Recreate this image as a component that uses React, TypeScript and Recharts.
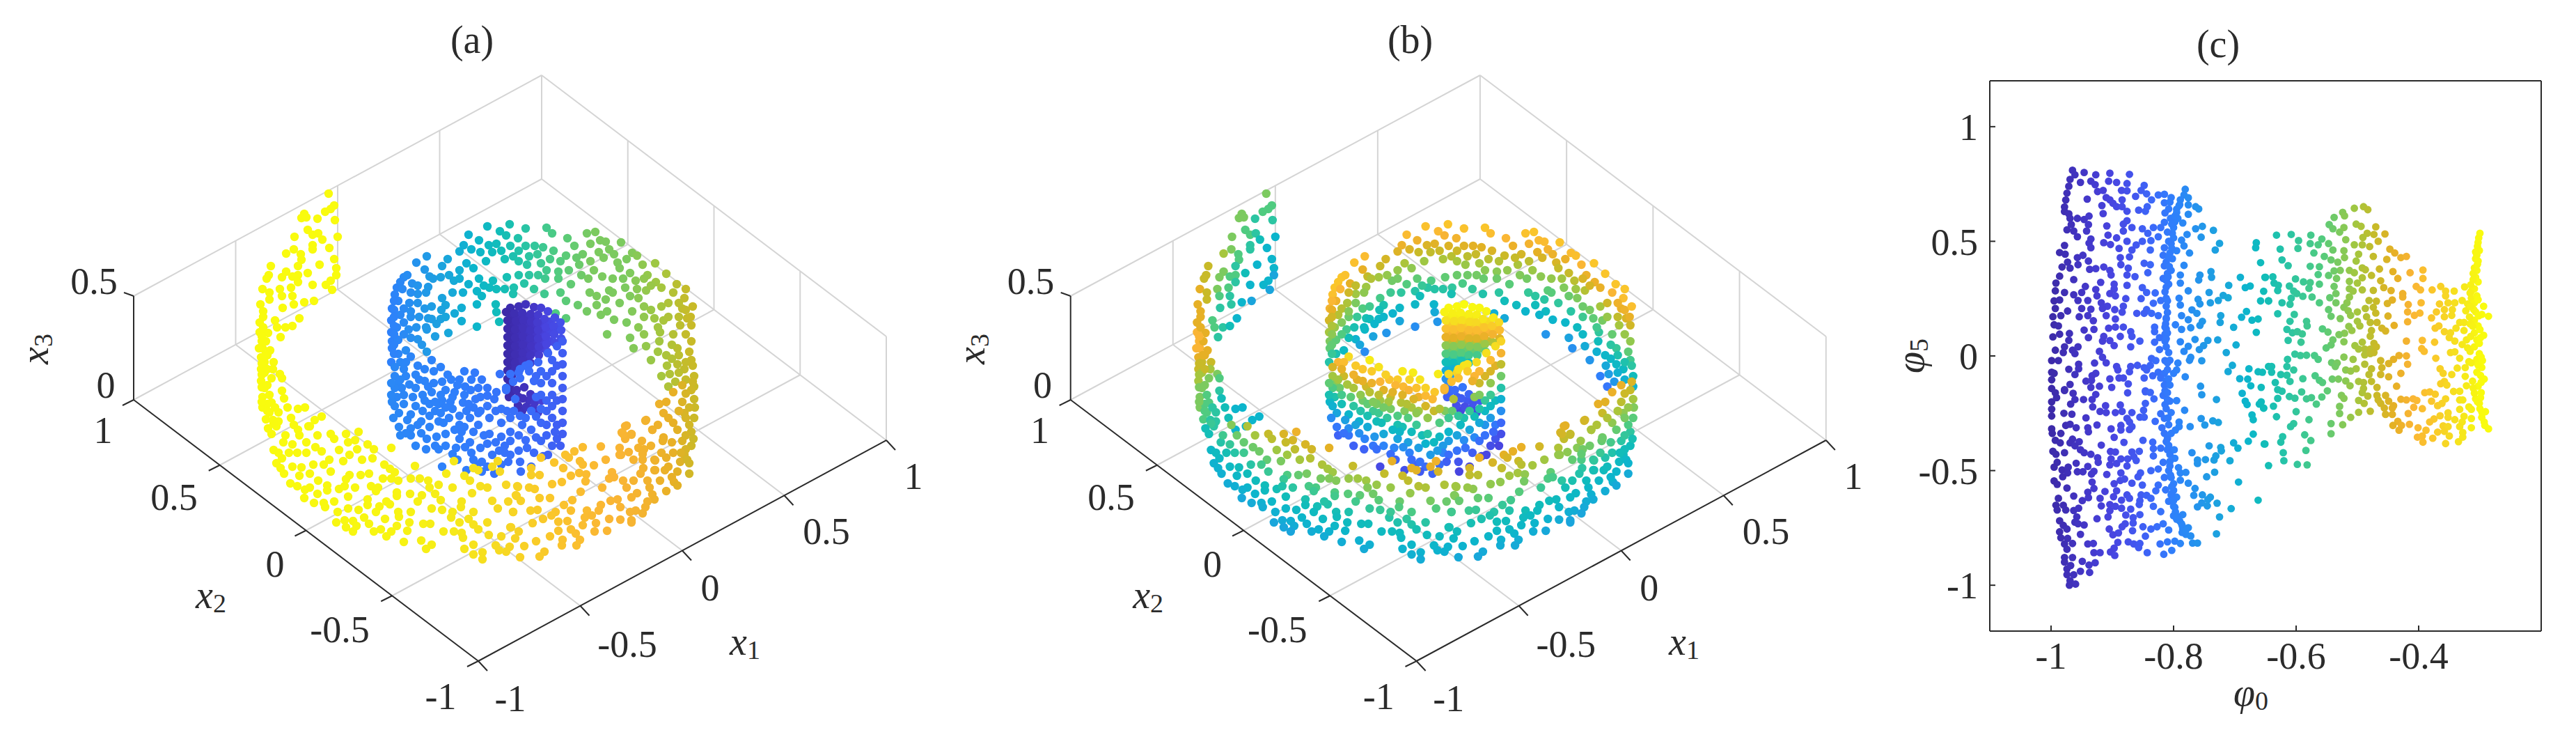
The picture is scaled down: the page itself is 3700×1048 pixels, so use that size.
import React from "react";
import { ScatterChart, Scatter, XAxis, YAxis, ReferenceLine } from "recharts";

const FONT = "'Liberation Serif', serif";
const INK = "#2b2b2b";
const GRID = "#d4d4d4";

// colour scale of the figure
const PALETTE = ["#3c2aa8","#4335c4","#4845e0","#4258f0","#3a6cfa","#2f80fb","#2494ec","#1aa5dc","#0cb5cc","#12bdb8","#2cc5a2","#50cb80","#7cca5f","#a6c63e","#c8ba28","#e6b025","#fab535","#fac52b","#f6da22","#f6ec18","#f9fb0e"];

// ---- panels (a), (b): projected positions of the points
const ringPts = [[700,325],[732,322],[755,328],[785,327],[793,335],[673,337],[718,332],[727,338],[744,342],[688,345],[660,361],[677,358],[702,352],[713,350],[733,353],[755,353],[768,353],[815,342],[843,335],[855,333],[870,347],[892,348],[613,368],[598,377],[643,372],[670,378],[698,375],[737,368],[772,365],[795,360],[813,367],[837,365],[860,362],[908,363],[915,367],[610,387],[635,382],[660,388],[617,397],[633,398],[757,380],[777,378],[802,390],[817,388],[832,380],[848,375],[867,370],[887,377],[923,380],[941,378],[580,398],[652,403],[688,400],[708,403],[728,398],[785,388],[853,388],[865,397],[905,392],[890,385],[957,393],[592,407],[570,413],[615,412],[673,408],[713,415],[738,413],[753,407],[767,415],[783,400],[802,400],[820,408],[913,403],[942,405],[972,408],[567,423],[600,422],[635,428],[685,418],[703,413],[692,425],[737,422],[782,422],[805,420],[847,420],[875,417],[898,413],[928,417],[950,413],[967,420],[563,443],[610,443],[640,438],[663,442],[685,437],[712,437],[813,432],[857,425],[890,435],[917,428],[983,428],[562,460],[580,443],[653,450],[713,448],[830,438],[843,447],[857,438],[872,447],[908,447],[980,443],[615,457],[633,458],[663,461],[717,462],[798,450],[813,457],[863,452],[882,459],[900,463],[940,457],[953,460],[987,457],[562,477],[580,463],[613,473],[685,469],[644,478],[625,483],[872,480],[917,470],[948,477],[977,467],[993,467],[563,500],[587,473],[600,487],[613,505],[910,500],[928,497],[947,490],[973,500],[967,480],[993,490],[562,520],[583,503],[935,517],[957,510],[993,517],[973,523],[563,490],[572,432],[575,452],[570,470],[572,488],[590,455],[572,508],[962,537],[983,530],[997,540],[990,505],[965,495],[985,480],[958,525],[945,505],[925,480],[905,485]];
const ringMore = [[585,395],[575,405],[566,432],[566,445],[566,455],[566,468],[566,480],[566,495],[566,508],[578,415],[590,420],[600,410],[612,420],[588,435],[600,435],[590,447],[602,455],[620,440],[612,470],[620,458],[634,445],[627,465],[640,455],[598,470],[590,485],[606,495],[580,480],[666,352],[690,362],[707,362],[720,360],[725,372],[745,360],[745,375],[760,368],[780,355],[790,372],[805,375],[825,353],[828,370],[848,350],[862,345],[875,358],[882,365],[900,372],[930,395],[925,400],[935,410],[915,415],[905,425],[895,400],[880,400],[835,395],[845,400],[773,395],[760,395],[745,395],[725,415],[695,410],[680,385],[660,400],[665,420],[650,420],[645,395],[622,400],[870,430],[880,420],[925,440],[935,445],[950,440],[960,435],[975,435],[985,445],[960,455],[945,470],[925,455],[975,455],[995,440],[985,415],[992,455],[975,510],[985,520],[965,515],[995,525],[975,535],[985,545],[997,555],[970,548],[960,555],[950,540]];

const cylinderPts = [[733,442],[745,440],[755,437],[767,441],[777,442],[787,447],[797,456],[805,463],[727,448],[739,450],[750,449],[762,451],[773,452],[729,460],[741,461],[752,460],[763,462],[782,458],[772,463],[729,472],[740,473],[751,471],[762,474],[773,474],[784,470],[795,468],[806,474],[729,484],[740,485],[751,483],[762,486],[773,486],[784,483],[796,480],[806,486],[729,496],[740,497],[751,495],[763,497],[774,498],[785,494],[797,492],[729,508],[740,509],[751,507],[762,510],[774,510],[786,505],[729,520],[740,521],[751,518],[762,521],[729,532],[740,530],[729,544],[729,560],[731,570],[742,560],[753,556],[762,566],[751,572],[756,584],[744,582],[768,578],[778,575],[773,592]];
const cylinderMore = [[735,455],[746,455],[757,455],[768,458],[735,467],[746,467],[757,467],[768,468],[779,466],[790,462],[800,472],[735,479],[746,478],[757,480],[768,480],[779,478],[790,477],[735,491],[746,490],[757,491],[768,492],[779,491],[790,490],[735,503],[746,502],[757,503],[768,504],[780,500],[735,515],[746,514],[757,514],[735,527],[746,525],[735,540],[733,552],[745,570],[735,562],[760,575],[766,586],[750,590]];

const innerFrontPts = [[620,517],[633,527],[623,533],[643,538],[667,533],[682,535],[692,545],[567,527],[597,538],[583,520],[583,540],[567,540],[580,530],[597,557],[610,547],[623,550],[640,560],[657,553],[677,545],[687,557],[700,557],[713,563],[727,560],[718,537],[733,537],[747,530],[760,523],[773,520],[787,507],[800,497],[808,490],[808,507],[808,523],[808,540],[808,557],[808,573],[808,590],[808,607],[808,623],[805,640],[793,517],[793,533],[793,550],[793,567],[793,583],[793,600],[797,620],[793,640],[787,653],[777,533],[777,550],[777,567],[777,587],[767,547],[760,533],[747,543],[737,548],[740,573],[727,557],[747,597],[763,590],[777,607],[750,610],[733,600],[763,617],[733,620],[777,633],[757,643],[733,633],[745,647],[733,653],[767,650],[747,663],[748,677],[763,670],[730,663],[720,587],[710,573],[700,583],[720,607],[703,600],[687,593],[687,610],[703,623],[680,620],[720,627],[700,637],[717,647],[690,643],[707,653],[720,667],[692,663],[680,660],[710,680],[692,677],[670,675],[657,660],[668,642],[655,643],[650,652],[635,670],[667,613],[660,597],[650,587],[673,580],[683,573],[667,567],[653,563],[647,577],[633,567],[630,580],[620,563],[617,580],[607,567],[577,557],[567,557],[563,577],[580,567],[597,583],[573,593],[617,597],[633,593],[637,607],[617,613],[573,613],[583,622],[600,610],[627,627],[640,623],[613,630],[597,640],[612,645],[630,645],[567,583],[562,567],[562,550],[575,545],[653,617],[663,620],[593,570],[607,590],[585,603],[565,600],[640,585],[660,630],[675,600],[625,577]];
const innerMore = [[575,520],[590,512],[600,525],[610,530],[572,550],[588,552],[602,545],[615,555],[635,548],[648,545],[660,545],[668,555],[676,560],[690,570],[700,568],[712,590],[728,590],[738,590],[755,600],[770,598],[785,610],[785,625],[770,628],[755,632],[745,625],[725,640],[712,635],[695,625],[675,635],[660,610],[645,600],[630,605],[625,590],[605,605],[590,595],[580,580],[570,570],[575,625],[590,625],[605,622],[625,640],[640,640],[677,650],[685,668],[700,670],[725,650],[780,655],[800,630],[785,590],[770,570],[785,575],[800,575],[785,540],[800,525],[770,540],[755,525],[745,535],[800,610],[690,590],[670,590],[650,570],[635,575],[665,578],[680,585],[610,575],[590,615]];

const tailPts = [[472,278,12],[480,295,11],[475,300,11],[467,304,11],[437,307,12],[433,313,12],[440,312,12],[456,314,10],[481,316,10],[442,330,11],[449,337,11],[457,335,10],[463,344,9],[423,340,12],[485,340,8],[449,352,10],[449,358,10],[473,356,8],[411,364,13],[422,358,12],[432,365,11],[433,373,11],[428,382,10],[480,372,8],[459,380,8],[389,382,14],[483,385,8],[483,395,7],[386,395,14],[383,400,14],[411,390,12],[405,398,12],[420,397,11],[428,395,11],[442,392,9],[428,405,10],[449,409,8],[475,403,8],[468,409,8],[477,416,7],[377,415,15],[387,420,14],[402,415,12],[405,425,11],[418,413,11],[420,425,10],[422,437,10],[374,437,15],[387,430,14],[378,447,15],[378,455,15],[406,442,10],[437,434,8],[451,432,7],[430,457,8],[395,460,11],[398,470,11],[410,470,10],[420,468,9],[403,484,10],[373,463,15],[373,477,16],[376,490,16],[377,500,16],[388,503,15],[375,513,15],[393,520,14],[380,520,14],[375,530,14],[402,537,12],[405,543,11],[390,543,12],[375,547,13],[380,557,12],[405,561,10],[408,572,9],[377,570,12],[387,567,11],[390,578,11],[377,585,12],[413,585,9],[428,587,8],[438,585,8],[387,592,11],[400,592,10],[382,602,11],[418,600,9],[392,603,10],[462,598,8],[452,603,8],[443,612,8],[428,617,8],[397,612,10],[384,510,15],[372,500,16],[382,490,15],[385,478,15],[380,535,13],[392,530,13],[384,580,11],[378,470,15],[376,483,16],[381,510,15],[376,522,14],[384,530,14],[376,538,13],[376,556,12],[384,553,12],[376,577,12],[384,590,11],[395,585,10],[400,605,10]];

const outerPts = [[393,608],[422,610],[445,612],[390,623],[456,625],[475,623],[497,623],[515,620],[510,632],[407,635],[420,638],[440,635],[453,642],[393,646],[427,650],[462,648],[487,646],[513,645],[528,638],[537,645],[562,643],[502,653],[493,662],[405,658],[397,665],[403,672],[473,660],[465,667],[535,658],[450,667],[433,671],[475,677],[552,667],[596,669],[560,673],[567,678],[502,682],[518,682],[430,683],[550,687],[562,687],[572,690],[590,687],[603,687],[615,690],[417,694],[457,690],[497,688],[427,698],[470,697],[445,700],[533,698],[543,700],[630,696],[617,700],[438,703],[487,702],[495,698],[470,704],[540,705],[570,707],[589,709],[606,711],[625,709],[456,709],[437,715],[500,713],[528,717],[633,718],[570,712],[451,722],[465,722],[467,728],[528,725],[560,724],[545,727],[485,735],[515,732],[540,735],[572,735],[635,732],[648,743],[553,745],[523,743],[573,742],[483,750],[495,747],[507,748],[588,750],[608,752],[618,752],[530,752],[673,745],[497,757],[512,755],[570,755],[680,753],[687,760],[507,763],[537,763],[547,760],[562,763],[585,762],[637,763],[652,763],[663,765],[702,768],[720,770],[555,770],[665,772],[733,757],[580,778],[605,776],[620,782],[680,782],[712,783],[727,792],[612,788],[667,788],[693,793],[717,790],[680,796],[693,803],[747,800],[667,683],[675,690],[690,698],[678,708],[663,720],[662,728],[641,680],[652,662],[680,672],[687,675],[707,670],[715,662],[718,677],[727,696],[743,698],[707,719],[715,730],[737,735],[742,712],[777,657],[763,672],[763,682],[775,682],[796,664],[812,653],[825,648],[837,642],[817,657],[833,662],[837,667],[853,668],[809,672],[820,683],[832,679],[842,681],[841,691],[863,641],[890,643],[892,653],[903,649],[900,611],[893,621],[907,624],[898,630],[927,604],[937,617],[953,628],[952,633],[922,633],[917,643],[925,645],[923,660],[941,661],[924,672],[920,680],[941,675],[955,675],[879,678],[875,687],[882,685],[948,690],[968,692],[973,697],[957,705],[933,700],[937,710],[940,717],[744,699],[741,711],[748,719],[768,702],[793,695],[807,692],[775,715],[834,706],[822,718],[915,708],[907,714],[887,717],[877,719],[863,725],[860,733],[891,728],[930,720],[927,728],[913,733],[923,737],[810,725],[820,733],[843,733],[840,743],[798,735],[792,740],[762,733],[772,732],[737,735],[875,745],[891,746],[907,747],[907,750],[856,751],[815,748],[802,749],[765,751],[837,754],[802,762],[854,763],[872,762],[827,766],[734,757],[745,763],[740,773],[770,777],[808,775],[833,775],[807,783],[828,783],[753,784],[782,792],[775,799],[732,785],[980,553],[967,563],[993,560],[947,580],[957,577],[980,577],[997,573],[953,593],[967,607],[983,593],[997,600],[928,603],[937,617],[973,617],[993,620],[898,612],[895,623],[907,623],[953,630],[980,633],[993,640],[890,653],[967,650],[983,653],[957,657],[940,660],[923,652],[977,663],[987,660],[960,670],[940,675],[973,677],[998,585],[990,610],[996,630],[985,645],[990,665],[995,548],[985,565],[975,590],[985,600]];
const outerMore = [[385,615],[410,625],[430,625],[415,650],[440,650],[400,650],[408,680],[420,670],[445,680],[480,630],[500,635],[520,660],[530,680],[510,700],[480,720],[500,730],[555,720],[590,735],[600,720],[620,730],[650,700],[650,735],[660,750],[680,735],[700,750],[700,700],[730,720],[760,700],[790,715],[780,745],[790,770],[820,760],[850,740],[865,700],[895,690],[910,690],[900,700],[870,660],[930,690],[905,735],[950,650],[965,635],[910,660],[935,640],[990,680],[978,650],[965,685],[985,625],[960,600],[945,610],[990,585]];

// colour guides for the spiral
const ringColorA = [[560,5],[600,6],[640,7],[680,8],[720,9],[760,10],[800,11],[850,12],[900,12],[950,13],[990,14]];
const cylColorA = [[727,0],[745,0.5],[765,1],[785,2],[806,2.6]];
const innerColorA = [[560,5.4],[650,5],[700,4.5],[760,4],[810,3.2]];
const outerColorA = [[370,20],[560,19.6],[640,19],[700,18.2],[780,17.2],[860,16.2],[930,15.6],[970,15],[1000,14]];
const ringTopEdge = [[560,430],[600,370],[650,335],[700,322],[750,325],[800,330],[850,333],[900,350],[950,390],[1000,440]];
const ringHeightB = [[0,17],[50,13],[80,11],[100,9],[130,7],[160,4]];
const cylHeightB = [[437,20],[455,19],[470,17],[485,15],[495,12.5],[508,11],[520,9],[535,7],[560,4],[590,2]];
const innerTopEdge = [[560,485],[600,510],[640,525],[680,535],[710,550],[730,530],[770,515],[800,490],[815,470]];
const innerHeightB = [[0,19],[25,16],[50,13],[75,10],[100,7],[125,4],[150,2]];
const outerLowEdge = [[375,650],[400,690],[430,715],[470,745],[520,770],[580,790],[640,803],[690,815],[760,805],[830,790],[900,752],[960,715],[1000,680]];
const outerHeightB = [[0,7],[50,9],[80,11],[110,13],[150,15.5],[190,16.5]];

// ---- panel (c): values, [phi0, phi5]
const phiUpper = [[-.965,.81],[-.961,.79],[-.969,.77],[-.971,.74],[-.974,.71],[-.976,.68],[-.978,.65],[-.978,.63],[-.971,.62],[-.969,.6],[-.957,.6],[-.946,.595],[-.938,.61],[-.946,.8],[-.952,.757],[-.927,.79],[-.935,.762],[-.928,.747],[-.904,.797],[-.906,.762],[-.893,.757],[-.872,.792],[-.876,.752],[-.941,.684],[-.924,.717],[-.915,.722],[-.91,.691],[-.904,.681],[-.885,.722],[-.876,.72],[-.917,.656],[-.899,.666],[-.884,.681],[-.893,.651],[-.884,.651],[-.876,.631],[-.915,.621],[-.848,.744],[-.853,.722],[-.862,.696],[-.844,.707],[-.836,.681],[-.843,.651],[-.857,.636],[-.846,.631],[-.825,.702],[-.815,.705],[-.804,.691],[-.815,.668],[-.806,.671],[-.781,.727],[-.783,.702],[-.776,.69],[-.789,.681],[-.776,.659],[-.791,.656],[-.764,.651],[-.759,.641],[-.808,.641],[-.795,.626],[-.776,.618],[-.814,.624],[-.793,.6],[-.785,.58],[-.798,.585],[-.815,.583],[-.876,.59],[-.882,.575],[-.909,.567],[-.939,.573],[-.967,.573],[-.974,.55],[-.963,.545],[-.942,.545],[-.957,.52],[-.935,.51],[-.938,.492],[-.935,.472],[-.978,.482],[-.907,.527],[-.893,.515],[-.914,.494],[-.903,.486],[-.889,.469],[-.876,.5],[-.882,.545],[-.868,.56],[-.851,.555],[-.842,.535],[-.833,.56],[-.821,.56],[-.825,.52],[-.837,.503],[-.851,.5],[-.861,.484],[-.868,.462],[-.764,.555],[-.753,.565],[-.735,.548],[-.755,.518],[-.778,.53],[-.725,.491],[-.732,.462],[-.802,.535],[-.8,.515],[-.804,.49],[-.787,.505],[-.783,.48],[-.795,.459],[-.815,.472],[-.774,.449],[-.838,.462],[-.806,.449],[-.986,.451],[-.977,.444],[-.957,.429],[-.948,.439],[-.939,.414],[-.973,.409],[-.982,.388],[-.969,.383],[-.956,.398],[-.937,.378],[-.927,.381],[-.914,.388],[-.904,.373],[-.887,.429],[-.872,.432],[-.886,.398],[-.874,.383],[-.876,.353],[-.863,.346],[-.848,.404],[-.838,.398],[-.842,.363],[-.817,.439],[-.802,.424],[-.815,.393],[-.804,.373],[-.817,.338],[-.808,.313],[-.783,.395],[-.789,.353],[-.789,.318],[-.757,.353],[-.759,.331],[-.739,.368],[-.738,.343],[-.986,.348],[-.992,.318],[-.993,.284],[-.963,.333],[-.919,.321],[-.902,.353],[-.897,.313],[-.897,.292],[-.944,.303],[-.927,.29],[-.876,.308],[-.851,.298],[-.844,.277],[-.83,.275],[-.776,.284],[-.71,.308],[-.691,.343],[-.675,.305],[-.683,.298],[-.651,.343],[-.658,.407],[-.665,.494],[-.666,.472],[-.978,.277],[-.963,.267],[-.95,.277],[-.94,.242],[-.956,.242],[-.995,.24],[-.986,.244],[-.925,.262],[-.904,.272],[-.895,.262],[-.878,.25],[-.918,.232],[-.908,.217],[-.853,.25],[-.833,.23],[-.821,.242],[-.812,.252],[-.791,.252],[-.812,.217],[-.789,.222],[-.742,.277],[-.76,.247],[-.74,.232],[-.727,.242],[-.719,.264],[-.711,.254],[-.757,.227],[-.653,.282],[-.658,.24],[-.645,.24],[-.993,.207],[-.973,.196],[-.95,.207],[-.935,.204],[-.916,.207],[-.896,.202],[-.882,.217],[-.884,.191],[-.844,.202],[-.86,.186],[-.848,.186],[-.836,.186],[-.77,.201],[-.762,.186],[-.787,.176],[-.681,.194],[-.689,.169],[-.672,.156],[-.662,.161],[-.997,.171],[-.984,.176],[-.954,.171],[-.94,.176],[-.91,.176],[-.895,.161],[-.825,.176],[-.812,.161],[-.931,.154],[-.776,.158],[-.723,.176],[-.724,.146],[-.753,.151],[-.995,.136],[-.988,.131],[-.895,.126],[-.882,.126],[-.906,.121],[-.946,.113],[-.93,.116],[-.831,.126],[-.814,.126],[-.797,.136],[-.787,.116],[-.772,.123],[-.757,.133],[-.702,.125],[-.665,.103],[-.986,.095],[-.997,.083],[-.97,.098],[-.939,.08],[-.971,.068],[-.914,.085],[-.887,.085],[-.87,.106],[-.868,.085],[-.831,.106],[-.814,.095],[-.823,.08],[-.814,.065],[-.916,.065],[-.904,.067],[-.855,.065],[-.789,.062],[-.765,.072],[-.744,.068],[-.728,.07],[-.978,.04],[-.956,.04],[-.897,.045],[-.87,.04],[-.831,.06],[-.776,.042],[-.751,.045],[-.698,.048],[-.993,.025],[-.98,.015],[-.965,.025],[-.961,.01],[-.921,.02],[-.823,.028],[-.808,.015],[-.783,.02],[-.758,.028],[-.714,.015],[-.805,.6],[-.8,.56],[-.81,.54],[-.808,.5],[-.812,.41],[-.81,.36],[-.812,.33],[-.814,.28],[-.81,.19],[-.813,.14],[-.81,.1],[-.812,.04],[-.79,.66],[-.795,.64],[-.798,.61],[-.803,.575],[-.803,.47],[-.808,.43],[-.807,.39],[-.809,.345],[-.812,.3],[-.81,.24],[-.812,.165],[-.812,.118],[-.812,.075]];

const phiLower = [[-.916,-.006],[-.91,-.03],[-.955,-.036],[-.929,-.031],[-.999,-.02],[-.988,-.02],[-.836,-.011],[-.829,-.02],[-.814,-.02],[-.806,-.019],[-.772,-.006],[-.774,-.019],[-.754,-.021],[-.971,-.058],[-.955,-.056],[-.893,-.046],[-.891,-.061],[-.87,-.046],[-.859,-.041],[-.872,-.069],[-.848,-.051],[-.838,-.041],[-.844,-.061],[-.793,-.031],[-.795,-.061],[-.8,-.076],[-.704,-.041],[-.711,-.068],[-.677,-.056],[-.645,-.046],[-.999,-.071],[-.995,-.076],[-.961,-.081],[-.927,-.076],[-.933,-.086],[-.825,-.071],[-.815,-.076],[-.662,-.069],[-.655,-.071],[-.999,-.104],[-.943,-.11],[-.934,-.107],[-.904,-.1],[-.889,-.096],[-.882,-.096],[-.848,-.096],[-.834,-.086],[-.821,-.096],[-.812,-.107],[-.781,-.091],[-.692,-.099],[-.679,-.101],[-.999,-.142],[-.978,-.147],[-.969,-.124],[-.935,-.137],[-.921,-.132],[-.901,-.137],[-.874,-.122],[-.846,-.152],[-.815,-.127],[-.806,-.127],[-.756,-.132],[-.674,-.13],[-.657,-.137],[-.993,-.161],[-.978,-.151],[-.999,-.2],[-.991,-.182],[-.964,-.163],[-.961,-.19],[-.968,-.21],[-.947,-.19],[-.933,-.19],[-.927,-.168],[-.932,-.222],[-.875,-.161],[-.846,-.156],[-.838,-.159],[-.832,-.187],[-.817,-.172],[-.814,-.151],[-.795,-.195],[-.806,-.197],[-.814,-.212],[-.754,-.169],[-.73,-.19],[-.688,-.163],[-.683,-.197],[-.68,-.212],[-.66,-.21],[-.657,-.2],[-.653,-.227],[-.999,-.232],[-.999,-.262],[-.979,-.25],[-.966,-.254],[-.943,-.27],[-.92,-.242],[-.91,-.247],[-.911,-.217],[-.887,-.214],[-.895,-.247],[-.884,-.242],[-.868,-.247],[-.876,-.272],[-.872,-.288],[-.846,-.207],[-.849,-.237],[-.855,-.267],[-.848,-.267],[-.821,-.252],[-.804,-.247],[-.815,-.272],[-.782,-.237],[-.83,-.285],[-.755,-.273],[-.736,-.283],[-.727,-.29],[-.672,-.257],[-.67,-.278],[-.976,-.303],[-.969,-.298],[-.959,-.313],[-.999,-.318],[-.998,-.338],[-.984,-.338],[-.94,-.313],[-.939,-.331],[-.925,-.301],[-.902,-.318],[-.886,-.303],[-.886,-.323],[-.868,-.308],[-.872,-.321],[-.791,-.288],[-.791,-.308],[-.797,-.323],[-.773,-.308],[-.749,-.301],[-.819,-.313],[-.815,-.338],[-.804,-.338],[-.993,-.368],[-.985,-.379],[-.965,-.363],[-.969,-.379],[-.954,-.374],[-.961,-.392],[-.918,-.389],[-.897,-.355],[-.881,-.377],[-.85,-.368],[-.834,-.376],[-.812,-.374],[-.67,-.341],[-.678,-.372],[-.702,-.379],[-.652,-.384],[-.695,-.402],[-.742,-.392],[-.723,-.399],[-.997,-.416],[-.992,-.429],[-.978,-.422],[-.952,-.409],[-.946,-.422],[-.935,-.429],[-.924,-.444],[-.903,-.417],[-.895,-.419],[-.868,-.419],[-.856,-.416],[-.833,-.404],[-.821,-.402],[-.81,-.409],[-.799,-.409],[-.833,-.436],[-.865,-.439],[-.77,-.422],[-.722,-.414],[-.731,-.436],[-.923,-.464],[-.959,-.468],[-.99,-.464],[-.995,-.485],[-.902,-.449],[-.904,-.475],[-.893,-.469],[-.886,-.449],[-.875,-.449],[-.876,-.48],[-.861,-.456],[-.817,-.464],[-.806,-.48],[-.798,-.446],[-.761,-.454],[-.761,-.469],[-.748,-.452],[-.734,-.454],[-.708,-.457],[-.645,-.478],[-.982,-.497],[-.972,-.485],[-.973,-.51],[-.981,-.527],[-.957,-.505],[-.948,-.505],[-.94,-.482],[-.93,-.503],[-.934,-.515],[-.909,-.517],[-.886,-.51],[-.854,-.51],[-.837,-.5],[-.825,-.493],[-.792,-.487],[-.789,-.51],[-.78,-.508],[-.733,-.507],[-.746,-.527],[-.995,-.545],[-.99,-.56],[-.933,-.55],[-.93,-.578],[-.974,-.576],[-.897,-.557],[-.887,-.543],[-.88,-.537],[-.868,-.555],[-.858,-.527],[-.851,-.563],[-.825,-.563],[-.815,-.53],[-.804,-.53],[-.8,-.557],[-.789,-.542],[-.776,-.555],[-.694,-.55],[-.765,-.578],[-.829,-.588],[-.813,-.584],[-.8,-.586],[-.912,-.591],[-.893,-.588],[-.898,-.614],[-.94,-.594],[-.963,-.611],[-.988,-.621],[-.876,-.606],[-.853,-.606],[-.844,-.608],[-.804,-.606],[-.795,-.616],[-.767,-.608],[-.753,-.606],[-.74,-.616],[-.939,-.618],[-.949,-.631],[-.92,-.621],[-.885,-.629],[-.872,-.621],[-.855,-.631],[-.837,-.621],[-.808,-.634],[-.744,-.626],[-.729,-.642],[-.662,-.629],[-.754,-.641],[-.992,-.651],[-.98,-.651],[-.99,-.672],[-.976,-.672],[-.918,-.654],[-.904,-.648],[-.895,-.656],[-.904,-.675],[-.885,-.664],[-.87,-.668],[-.856,-.648],[-.833,-.656],[-.821,-.679],[-.8,-.656],[-.761,-.658],[-.745,-.654],[-.706,-.666],[-.963,-.674],[-.955,-.664],[-.958,-.702],[-.925,-.71],[-.907,-.702],[-.878,-.694],[-.855,-.692],[-.866,-.705],[-.8,-.697],[-.785,-.692],[-.795,-.712],[-.725,-.702],[-.986,-.719],[-.98,-.739],[-.961,-.725],[-.956,-.732],[-.946,-.737],[-.866,-.729],[-.879,-.732],[-.884,-.745],[-.817,-.732],[-.827,-.745],[-.787,-.732],[-.776,-.749],[-.785,-.755],[-.85,-.745],[-.837,-.755],[-.905,-.755],[-.974,-.755],[-.986,-.767],[-.952,-.778],[-.867,-.762],[-.89,-.772],[-.899,-.78],[-.808,-.759],[-.78,-.778],[-.772,-.785],[-.73,-.776],[-.846,-.786],[-.984,-.793],[-.973,-.796],[-.965,-.818],[-.978,-.82],[-.94,-.82],[-.931,-.818],[-.891,-.813],[-.874,-.811],[-.865,-.82],[-.855,-.818],[-.822,-.82],[-.81,-.811],[-.798,-.808],[-.789,-.818],[-.769,-.816],[-.761,-.816],[-.974,-.843],[-.857,-.836],[-.897,-.838],[-.93,-.858],[-.92,-.858],[-.903,-.855],[-.896,-.87],[-.843,-.858],[-.803,-.848],[-.816,-.865],[-.978,-.879],[-.965,-.879],[-.978,-.899],[-.949,-.896],[-.928,-.902],[-.938,-.912],[-.974,-.929],[-.968,-.914],[-.974,-.954],[-.963,-.954],[-.952,-.939],[-.937,-.944],[-.969,-.98],[-.96,-.995],[-.97,-1],[-.81,-.03],[-.808,-.1],[-.812,-.23],[-.808,-.3],[-.81,-.36],[-.806,-.43],[-.808,-.5],[-.803,-.6],[-.8,-.63],[-.797,-.68],[-.79,-.72],[-.786,-.77],[-.81,-.06],[-.81,-.16],[-.81,-.19],[-.809,-.27],[-.808,-.39],[-.806,-.46],[-.805,-.52],[-.803,-.57],[-.798,-.66],[-.794,-.7],[-.786,-.74],[-.78,-.76]];

const phiRight = [[-.632,.527],[-.608,.53],[-.596,.503],[-.576,.527],[-.577,.49],[-.626,.466],[-.597,.469],[-.558,.51],[-.564,.485],[-.547,.49],[-.54,.462],[-.571,.449],[-.554,.434],[-.543,.419],[-.532,.409],[-.623,.419],[-.613,.394],[-.577,.391],[-.562,.389],[-.524,.626],[-.521,.611],[-.538,.604],[-.546,.573],[-.54,.555],[-.529,.54],[-.522,.56],[-.505,.644],[-.49,.651],[-.483,.638],[-.502,.575],[-.494,.565],[-.47,.563],[-.455,.532],[-.484,.535],[-.491,.517],[-.473,.53],[-.466,.5],[-.519,.507],[-.505,.485],[-.48,.477],[-.492,.485],[-.522,.459],[-.521,.429],[-.498,.444],[-.502,.414],[-.474,.434],[-.452,.421],[-.447,.466],[-.439,.449],[-.429,.429],[-.42,.434],[-.528,.373],[-.538,.371],[-.547,.351],[-.564,.355],[-.562,.313],[-.534,.338],[-.513,.373],[-.505,.363],[-.492,.384],[-.487,.376],[-.464,.379],[-.477,.351],[-.492,.341],[-.462,.328],[-.442,.368],[-.434,.338],[-.414,.363],[-.393,.375],[-.393,.338],[-.65,.343],[-.638,.345],[-.636,.318],[-.629,.308],[-.63,.285],[-.601,.336],[-.611,.305],[-.588,.323],[-.577,.32],[-.579,.295],[-.604,.283],[-.599,.272],[-.538,.303],[-.535,.272],[-.513,.325],[-.5,.318],[-.513,.293],[-.507,.283],[-.492,.288],[-.474,.286],[-.457,.298],[-.445,.285],[-.404,.303],[-.397,.288],[-.378,.288],[-.364,.303],[-.356,.283],[-.342,.283],[-.325,.301],[-.426,.272],[-.426,.257],[-.589,.26],[-.574,.257],[-.562,.232],[-.545,.254],[-.535,.232],[-.513,.257],[-.517,.232],[-.608,.252],[-.623,.232],[-.61,.225],[-.645,.24],[-.481,.242],[-.469,.239],[-.443,.244],[-.451,.229],[-.396,.232],[-.417,.224],[-.356,.262],[-.352,.232],[-.366,.227],[-.341,.232],[-.329,.242],[-.314,.283],[-.314,.252],[-.32,.227],[-.522,.212],[-.515,.197],[-.547,.202],[-.543,.173],[-.511,.177],[-.487,.207],[-.474,.212],[-.47,.187],[-.5,.192],[-.528,.163],[-.603,.181],[-.63,.184],[-.418,.192],[-.407,.177],[-.398,.187],[-.45,.174],[-.358,.202],[-.371,.192],[-.379,.166],[-.358,.171],[-.345,.202],[-.346,.177],[-.323,.197],[-.294,.217],[-.286,.173],[-.297,.181],[-.61,.151],[-.583,.151],[-.582,.131],[-.615,.116],[-.606,.101],[-.598,.106],[-.59,.096],[-.557,.118],[-.548,.104],[-.514,.129],[-.509,.111],[-.485,.171],[-.5,.151],[-.496,.131],[-.479,.146],[-.468,.146],[-.46,.121],[-.454,.109],[-.44,.133],[-.418,.149],[-.373,.121],[-.367,.131],[-.358,.106],[-.348,.101],[-.339,.121],[-.333,.146],[-.326,.146],[-.326,.111],[-.521,.099],[-.53,.093],[-.477,.111],[-.479,.086],[-.613,.068],[-.592,.06],[-.54,.07],[-.543,.048],[-.522,.062],[-.551,.035],[-.492,.06],[-.504,.045],[-.473,.055],[-.42,.065],[-.394,.068],[-.374,.06],[-.35,.08],[-.341,.065],[-.329,.05],[-.322,.07],[-.498,.03],[-.488,.03],[-.479,.03],[-.469,.04],[-.395,.032],[-.391,.02],[-.32,.035],[-.602,.008],[-.593,.002],[-.583,.003],[-.57,.002],[-.564,-.015],[-.614,-.015],[-.522,-.005],[-.507,-.015],[-.488,.005],[-.479,.01],[-.473,.015],[-.348,.015],[-.341,.018],[-.333,-.01],[-.372,-.01],[-.432,.002],[-.42,0],[-.441,-.015],[-.462,-.02],[-.318,-.025],[-.64,-.046],[-.615,-.046],[-.604,-.061],[-.542,-.029],[-.533,-.031],[-.536,-.046],[-.449,-.033],[-.46,-.051],[-.418,-.036],[-.488,-.036],[-.502,-.056],[-.519,-.061],[-.511,-.066],[-.477,-.056],[-.365,-.056],[-.36,-.076],[-.346,-.081],[-.337,-.053],[-.324,-.051],[-.64,-.071],[-.625,-.081],[-.615,-.084],[-.429,-.076],[-.569,-.086],[-.562,-.106],[-.557,-.116],[-.589,-.099],[-.61,-.111],[-.541,-.101],[-.531,-.101],[-.519,-.109],[-.512,-.13],[-.498,-.111],[-.481,-.081],[-.462,-.081],[-.449,-.091],[-.477,-.111],[-.49,-.116],[-.324,-.089],[-.358,-.111],[-.364,-.121],[-.634,-.116],[-.63,-.147],[-.623,-.154],[-.591,-.157],[-.549,-.152],[-.49,-.142],[-.468,-.137],[-.436,-.132],[-.354,-.127],[-.322,-.13],[-.343,-.155],[-.333,-.154],[-.39,-.16],[-.382,-.157],[-.611,-.177],[-.63,-.185],[-.602,-.184],[-.583,-.187],[-.575,-.182],[-.558,-.179],[-.526,-.172],[-.522,-.185],[-.483,-.175],[-.492,-.16],[-.468,-.172],[-.454,-.172],[-.429,-.189],[-.42,-.192],[-.409,-.187],[-.403,-.194],[-.373,-.167],[-.356,-.187],[-.333,-.192],[-.328,-.192],[-.653,-.228],[-.637,-.219],[-.567,-.21],[-.498,-.194],[-.489,-.207],[-.466,-.192],[-.462,-.207],[-.449,-.197],[-.441,-.217],[-.379,-.197],[-.369,-.217],[-.362,-.207],[-.307,-.187],[-.301,-.207],[-.318,-.222],[-.6,-.243],[-.529,-.22],[-.529,-.251],[-.498,-.246],[-.479,-.241],[-.456,-.227],[-.443,-.227],[-.408,-.224],[-.394,-.23],[-.352,-.248],[-.333,-.233],[-.314,-.233],[-.297,-.243],[-.291,-.243],[-.632,-.265],[-.454,-.255],[-.443,-.255],[-.417,-.251],[-.511,-.268],[-.579,-.278],[-.352,-.268],[-.365,-.261],[-.375,-.275],[-.326,-.263],[-.314,-.273],[-.341,-.278],[-.297,-.268],[-.604,-.295],[-.543,-.295],[-.524,-.3],[-.434,-.285],[-.382,-.288],[-.329,-.288],[-.293,-.288],[-.292,-.303],[-.286,-.318],[-.609,-.308],[-.442,-.303],[-.428,-.303],[-.415,-.298],[-.401,-.313],[-.432,-.324],[-.36,-.305],[-.352,-.308],[-.314,-.313],[-.333,-.308],[-.586,-.344],[-.543,-.339],[-.388,-.324],[-.369,-.332],[-.358,-.329],[-.35,-.349],[-.328,-.334],[-.402,-.354],[-.394,-.349],[-.377,-.359],[-.328,-.354],[-.622,-.352],[-.576,-.369],[-.625,-.376],[-.393,-.376],[-.356,-.382],[-.335,-.374],[-.651,-.384],[-.621,-.422],[-.584,-.412],[-.62,-.457],[-.598,-.473],[-.582,-.475],[-.3,.535],[-.303,.495],[-.301,.46],[-.307,.424],[-.309,.384],[-.303,.414],[-.307,.343],[-.303,.323],[-.309,.293],[-.305,.262],[-.309,.232],[-.307,.192],[-.309,.156],[-.303,.131],[-.294,.09],[-.309,.101],[-.305,.07],[-.309,.04],[-.301,.01],[-.305,-.015],[-.297,-.05],[-.305,-.071],[-.293,-.101],[-.303,-.132],[-.309,-.162],[-.299,-.182],[-.303,-.04],[-.299,.08],[-.307,.454],[-.305,.373],[-.311,.333],[-.31,.202],[-.302,.515],[-.304,.478],[-.305,.44],[-.304,.4],[-.311,.36],[-.315,.31],[-.316,.275],[-.303,.245],[-.315,.215],[-.302,.175],[-.316,.14],[-.3,.115],[-.315,.085],[-.301,.055],[-.316,.02],[-.298,-.005],[-.314,-.03],[-.296,-.02],[-.299,-.085],[-.312,-.11],[-.298,-.115],[-.311,-.14],[-.298,-.16],[-.304,-.2],[-.3,-.23],[-.296,-.25],[-.317,.17],[-.312,.13]];
const phiColor = [[-1,0],[-.95,1],[-.9,2],[-.86,3],[-.83,4],[-.8,5],[-.76,6],[-.72,7],[-.68,8],[-.65,9],[-.61,10],[-.56,11],[-.53,12],[-.5,13],[-.47,14],[-.44,15],[-.41,16],[-.38,17],[-.35,18],[-.32,19],[-.3,20]];

const phi0Ticks = [-1, -0.8, -0.6, -0.4];
const phi5Ticks = [-1, -0.5, 0, 0.5, 1];
const boxTicks = [-0.5, 0, 0.5];

const tickLabels = [
  ["0.5", 135, 404], ["0", 152, 553], ["1", 148, 618],
  ["0.5", 250, 714], ["0", 395, 810], ["-0.5", 488, 904], ["-1", 633, 1000],
  ["-1", 733, 1003], ["-0.5", 901, 925], ["0", 1020, 844], ["0.5", 1187, 763], ["1", 1312, 684],
];

const guide = (t: number[][], x: number) => {
  if (x <= t[0][0]) return t[0][1];
  for (let i = 1; i < t.length; i++) {
    if (x <= t[i][0]) return t[i - 1][1] + ((t[i][1] - t[i - 1][1]) * (x - t[i - 1][0])) / (t[i][0] - t[i - 1][0]);
  }
  return t[t.length - 1][1];
};
const hex = (c: string) => [1, 3, 5].map((i) => parseInt(c.slice(i, i + 2), 16));
const colour = (v: number) => {
  const i = Math.max(0, Math.min(19.999, v));
  const k = Math.floor(i);
  const a = hex(PALETTE[k]);
  const b = hex(PALETTE[k + 1]);
  return `rgb(${a.map((s, j) => Math.round(s + (b[j] - s) * (i - k))).join(",")})`;
};

const spiral = (mode: "a" | "b") => {
  const put = (p: number[], ca: number, cb: number) => ({ u: p[0], v: p[1], fill: colour(mode === "a" ? ca : cb) });
  return [
    [...ringPts, ...ringMore].map((p) => put(p, guide(ringColorA, p[0]), guide(ringHeightB, p[1] - guide(ringTopEdge, p[0])))),
    [...cylinderMore, ...cylinderPts].map((p) => put(p, guide(cylColorA, p[0]), guide(cylHeightB, p[1]))),
    [...innerMore, ...innerFrontPts].map((p) => put(p, guide(innerColorA, p[0]), guide(innerHeightB, p[1] - guide(innerTopEdge, p[0])))),
    tailPts.map((p) => put(p, 20, p[2])),
    [...outerPts, ...outerMore].map((p) => put(p, guide(outerColorA, p[0]), guide(outerHeightB, guide(outerLowEdge, p[0]) - p[1]))),
  ];
};

// box of the 3-D axes in the chart's plane
const project = (x1: number, x2: number, x3: number) => ({
  x: 687 + (x1 + 1) * 293 - (x2 + 1) * 247.5,
  y: 949 - (x1 + 1) * 158.5 - (x2 + 1) * 187.5 - x3 * 298,
});
const off = (p: { x: number; y: number }, dx: number, dy: number) => ({ x: p.x + dx, y: p.y + dy });

const greySegments = () => {
  const s: { x: number; y: number }[][] = [];
  for (const t of boxTicks) {
    s.push([project(t, -1, 0), project(t, 1, 0)]);
    s.push([project(-1, t, 0), project(1, t, 0)]);
    s.push([project(t, 1, 0), project(t, 1, 0.5)]);
    s.push([project(1, t, 0), project(1, t, 0.5)]);
  }
  s.push([project(-1, 1, 0), project(1, 1, 0)], [project(1, 1, 0), project(1, -1, 0)]);
  s.push([project(-1, 1, 0.5), project(1, 1, 0.5)], [project(1, 1, 0.5), project(1, -1, 0.5)]);
  s.push([project(1, 1, 0), project(1, 1, 0.5)], [project(1, -1, 0), project(1, -1, 0.5)]);
  return s;
};
const inkSegments = () => {
  const s: { x: number; y: number }[][] = [
    [project(-1, 1, 0), project(-1, 1, 0.5)],
    [project(-1, 1, 0), project(-1, -1, 0)],
    [project(-1, -1, 0), project(1, -1, 0)],
  ];
  for (const t of [-1, -0.5, 0, 0.5, 1]) {
    const a = project(-1, t, 0);
    s.push([a, off(a, -16, 8)]);
    const b = project(t, -1, 0);
    s.push([b, off(b, 13, 14)]);
  }
  const z = project(-1, 1, 0.5);
  s.push([z, off(z, -14, -5)]);
  return s;
};

const dotShape = (r: number) => (p: any) => <circle cx={p.cx} cy={p.cy} r={r} fill={p.payload.fill} />;
const textShape = (p: any) => {
  const d = p.payload;
  return (
    <text x={p.cx} y={p.cy} textAnchor="middle" dominantBaseline="central" fontFamily={FONT} fontSize={d.size || 54} fill={INK}
      transform={d.rot ? `rotate(${d.rot} ${p.cx} ${p.cy})` : undefined}>
      {d.sub ? (
        <>
          <tspan fontStyle="italic">{d.text}</tspan>
          <tspan fontSize={38} dy={12}>{d.sub}</tspan>
        </>
      ) : d.text}
    </text>
  );
};

function Panel3D({ left, width, mode, title }: { left: number; width: number; mode: "a" | "b"; title: string }) {
  const labels = [
    ...tickLabels.map(([text, u, v]) => ({ text, u, v })),
    { text: "x", sub: "3", u: 50, v: 501, rot: -90, size: 56 },
    { text: "x", sub: "2", u: 303, v: 854, size: 56 },
    { text: "x", sub: "1", u: 1070, v: 921, size: 56 },
    { text: title, u: 678, v: 57, size: 56 },
  ];
  return (
    <div style={{ position: "absolute", left, top: 0 }}>
      <ScatterChart width={width} height={1048} margin={{ top: 0, right: 0, bottom: 0, left: 0 }}>
        <XAxis type="number" dataKey="u" domain={[0, 1340]} hide />
        <YAxis type="number" dataKey="v" domain={[0, 1048]} reversed hide />
        {greySegments().map((seg, i) => (
          <ReferenceLine key={"g" + i} segment={seg} stroke={GRID} strokeWidth={2} ifOverflow="visible" />
        ))}
        {inkSegments().map((seg, i) => (
          <ReferenceLine key={"k" + i} segment={seg} stroke={INK} strokeWidth={2} ifOverflow="visible" />
        ))}
        {spiral(mode).map((d, i) => (
          <Scatter key={i} data={d} shape={dotShape(6.2)} isAnimationActive={false} />
        ))}
        <Scatter data={labels} shape={textShape} isAnimationActive={false} />
      </ScatterChart>
    </div>
  );
}

const emptyTick = () => <g />;

function PanelC() {
  const pts = [...phiUpper, ...phiLower, ...phiRight].map((p) => ({ u: p[0], v: p[1], fill: colour(guide(phiColor, p[0])) }));
  const labels = [
    { text: "(c)", u: 536, v: 63, size: 56 },
    { text: "φ", sub: "0", u: 583, v: 994, size: 56 },
    { text: "φ", sub: "5", u: 94, v: 511, rot: -90, size: 56 },
  ];
  const tick = { fontSize: 54, fontFamily: FONT, fill: INK };
  const line = { stroke: INK, strokeWidth: 2 };
  return (
    <>
      <div style={{ position: "absolute", left: 2650, top: 0 }}>
        <ScatterChart width={1050} height={1048} margin={{ top: 115, right: 49, bottom: 82, left: 88 }}>
          <XAxis xAxisId="b" type="number" dataKey="u" domain={[-1.1, -0.2]} ticks={phi0Ticks} orientation="bottom" height={60} interval={0}
            tick={tick} tickSize={-8} tickMargin={24} stroke={INK} strokeWidth={2} tickLine={line} />
          <XAxis xAxisId="t" type="number" dataKey="u" domain={[-1.1, -0.2]} ticks={phi0Ticks} orientation="top" height={1} interval={0}
            tick={emptyTick} tickSize={-8} stroke={INK} strokeWidth={2} tickLine={line} />
          <YAxis yAxisId="l" type="number" dataKey="v" domain={[-1.2, 1.2]} ticks={phi5Ticks} orientation="left" width={120} interval={0}
            tick={tick} tickSize={-8} tickMargin={25} stroke={INK} strokeWidth={2} tickLine={line} />
          <YAxis yAxisId="r" type="number" dataKey="v" domain={[-1.2, 1.2]} ticks={phi5Ticks} orientation="right" width={1} interval={0}
            tick={emptyTick} tickSize={-8} stroke={INK} strokeWidth={2} tickLine={line} />
          <Scatter xAxisId="b" yAxisId="l" data={pts} shape={dotShape(5.4)} isAnimationActive={false} />
        </ScatterChart>
      </div>
      <div style={{ position: "absolute", left: 2650, top: 0 }}>
        <ScatterChart width={1050} height={1048} margin={{ top: 0, right: 0, bottom: 0, left: 0 }}>
          <XAxis type="number" dataKey="u" domain={[0, 1050]} hide />
          <YAxis type="number" dataKey="v" domain={[0, 1048]} reversed hide />
          <Scatter data={labels} shape={textShape} isAnimationActive={false} />
        </ScatterChart>
      </div>
    </>
  );
}

export default function App() {
  return (
    <div style={{ position: "absolute", left: 0, top: 0, width: 3700, height: 1048, background: "#fff", overflow: "hidden" }}>
      <Panel3D left={0} width={1340} mode="a" title="(a)" />
      <Panel3D left={1345} width={1345} mode="b" title="(b)" />
      <PanelC />
    </div>
  );
}
